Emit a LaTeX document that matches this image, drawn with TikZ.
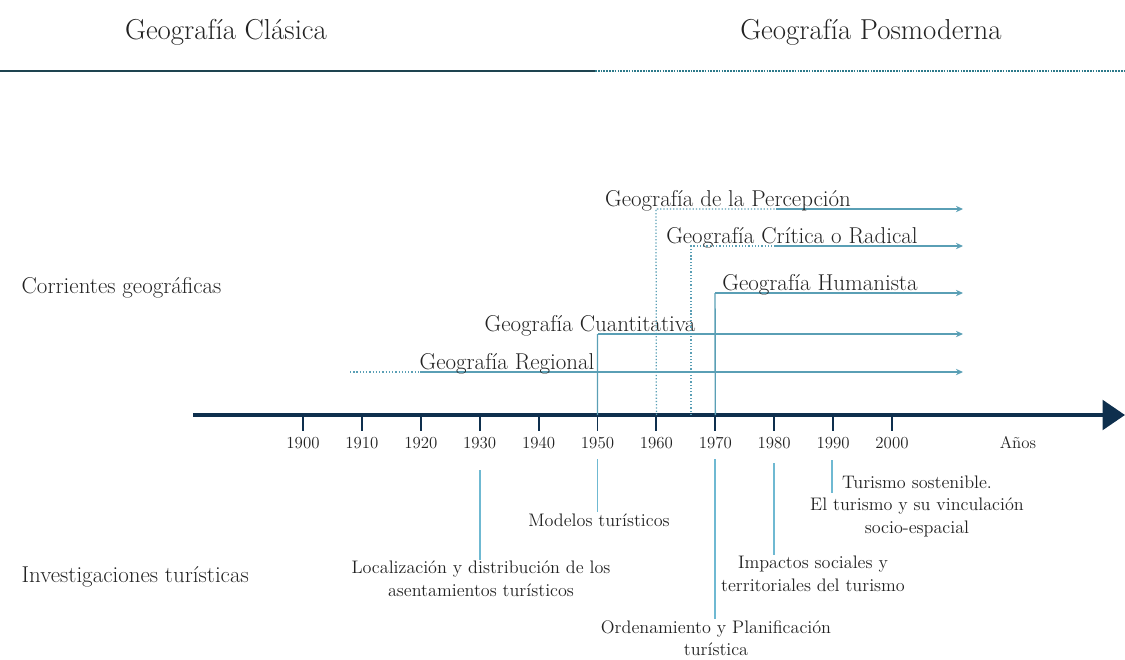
\documentclass[tikz,border=0pt]{standalone}
\usetikzlibrary{arrows.meta}

\definecolor{navy}{HTML}{0E2F4D}
\definecolor{darkteal}{HTML}{1E4450}
\definecolor{midteal}{HTML}{2D7A8A}
\definecolor{arrteal}{HTML}{5A9FB5}
\definecolor{lblue}{HTML}{6FB9D2}
\definecolor{txt}{HTML}{222222}

\begin{document}
\begin{tikzpicture}[x=0.025cm, y=-0.025cm,
    every node/.style={text=txt, inner sep=1pt},
    ttl/.style={font=\fontsize{20.5}{24}\selectfont},
    cur/.style={font=\fontsize{16.3}{19}\selectfont, anchor=base},
    side/.style={font=\fontsize{16.3}{19}\selectfont, anchor=west},
    yrl/.style={font=\fontsize{12}{14}\selectfont},
    inv/.style={font=\fontsize{12.9}{16}\selectfont, align=center},
    axisl/.style={draw=navy, line width=2.9pt, -{Triangle[length=16pt, width=21pt]}},
    tk/.style={draw=navy, line width=1.4pt},
    topl/.style={draw=darkteal, line width=2.1pt},
    topd/.style={draw=midteal, line width=2.1pt, dash pattern=on 1.2pt off 0.8pt},
    arr/.style={draw=arrteal, line width=1pt, -{Stealth[length=5pt, width=4.5pt]}},
    seg/.style={draw=arrteal, line width=1pt},
    dots/.style={draw=arrteal, line width=0.9pt, dash pattern=on 0.9pt off 1.4pt},
    vl/.style={draw=lblue, line width=1pt}
]
\useasboundingbox (0,0) rectangle (1125,659);

% headings and top rule
\node[ttl] (clas) at (226,32) {Geografía Clásica};
\node[ttl] (posm) at (871,32) {Geografía Posmoderna};
\coordinate (tl0) at (0,71);
\coordinate (tlm) at (595,71);
\coordinate (tl1) at (1125,71);
\draw[topl] (tl0) -- (tlm);
\draw[topd] (tlm) -- (tl1);

\node[side] (corr) at (20,288) {Corrientes geográficas};
\node[side] (invt) at (20,577) {Investigaciones turísticas};

% time axis
\coordinate (axL) at (193,415);
\coordinate (axR) at (1125,415);
\draw[axisl] (axL) -- (axR);
\foreach \yr [count=\i from 0] in {1900,1910,...,2000} {
  \coordinate (t\yr) at ({303+\i*58.9},415);
  \draw[tk] (t\yr) -- ++(0,16);
  \node[yrl] (l\yr) at ({303+\i*58.9},443) {\yr};
}
\node[yrl] (anos) at (1018,443) {Años};
\coordinate (t1966) at (691,415);

% corrientes
\coordinate (regS) at (350,372);
\coordinate (regM) at (420,372);
\coordinate (regE) at (963,372);
\draw[dots] (regS) -- (regM);
\draw[arr] (regM) -- (regE);
\node[cur] (reg) at (507,369) {Geografía Regional};

\coordinate (cuaS) at (597.5,334);
\coordinate (cuaE) at (963,334);
\draw[seg] (t1950) -- (cuaS);
\draw[arr] (cuaS) -- (cuaE);
\node[cur] (cua) at (590,331) {Geografía Cuantitativa};

\coordinate (humS) at (715,293);
\coordinate (humE) at (963,293);
\draw[seg] (t1970) -- (humS);
\draw[arr] (humS) -- (humE);
\node[cur] (hum) at (820,290) {Geografía Humanista};

\coordinate (criS) at (691,246);
\coordinate (criM) at (776,246);
\coordinate (criE) at (963,246);
\draw[dots] (t1966) -- (criS) -- (criM);
\draw[arr] (criM) -- (criE);
\node[cur] (cri) at (792,243) {Geografía Crítica o Radical};

\coordinate (perS) at (656,209);
\coordinate (perM) at (776,209);
\coordinate (perE) at (963,209);
\draw[dots] (t1960) -- (perS) -- (perM);
\draw[arr] (perM) -- (perE);
\node[cur] (per) at (728,206) {Geografía de la Percepción};

% investigaciones
\node[inv] (loc) at (481,579) {Localización y distribución de los\\asentamientos turísticos};
\node[inv] (mod) at (599,520) {Modelos turísticos};
\node[inv] (ord) at (716,638) {Ordenamiento y Planificación\\turística};
\node[inv] (imp) at (813,574) {Impactos sociales y\\territoriales del turismo};
\node[inv] (sos) at (917,506) {Turismo sostenible.\\El turismo y su vinculación\\socio-espacial};

\coordinate (b1930) at (480,470);
\coordinate (b1950) at (597.5,459);
\coordinate (b1970) at (715,459);
\coordinate (b1980) at (774,463);
\coordinate (b1990) at (832,460);
\coordinate (e1990) at (832,493);
\draw[vl] (b1930) -- (b1930 |- loc.north);
\draw[vl] (b1950) -- (b1950 |- mod.north);
\draw[vl] (b1970) -- (b1970 |- ord.north);
\draw[vl] (b1980) -- (b1980 |- imp.north);
\draw[vl] (b1990) -- (e1990);
\end{tikzpicture}
\end{document}
